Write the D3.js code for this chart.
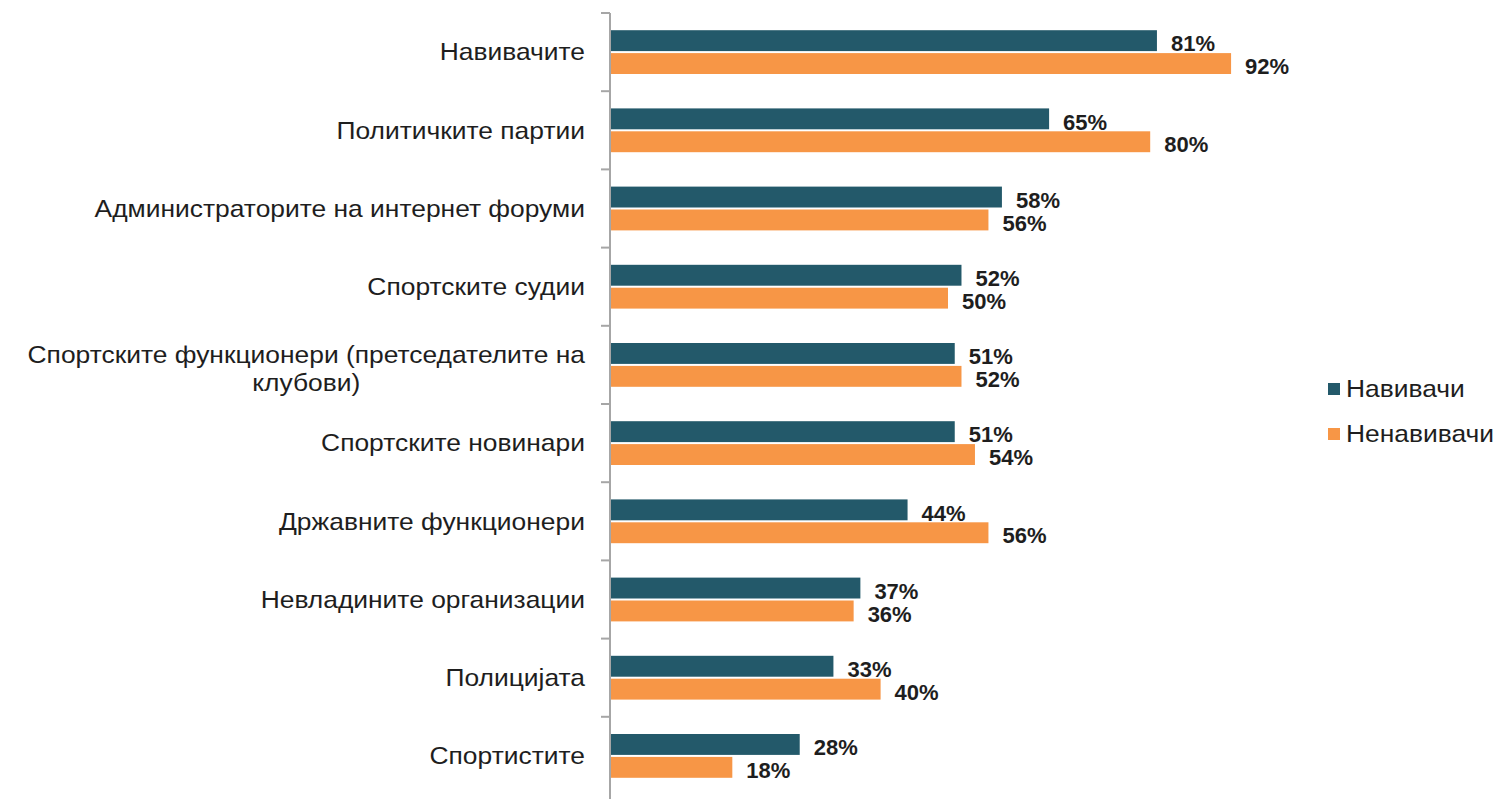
<!DOCTYPE html>
<html>
<head>
<meta charset="utf-8">
<script src="https://cdn.jsdelivr.net/npm/d3@7"></script>
<style>
    body { margin: 0; background: #fff; }
    text { font-family: "Liberation Sans", Arial, sans-serif; fill: #1e1e1e; }
</style>
</head>
<body>
<div id="chart"></div>
<script>
var categories = [
    'Навивачите',
    'Политичките партии',
    'Администраторите на интернет форуми',
    'Спортските судии',
    'Спортските функционери (претседателите на клубови)',
    'Спортските новинари',
    'Државните функционери',
    'Невладините организации',
    'Полицијата',
    'Спортистите'
];
var fans = [81, 65, 58, 52, 51, 51, 44, 37, 33, 28];
var nonFans = [92, 80, 56, 50, 52, 54, 56, 36, 40, 18];
var seriesNames = ['Навивачи', 'Ненавивачи'];
var colors = ['#23596a', '#f79646'];

var width = 1501, height = 799;
var margin = {top: 13, left: 610, bottom: 4};
var labelSize = '24px';
var stretch = 1.1; // the source text is a bit wide

var svg = d3.select('#chart').append('svg')
    .attr('width', width)
    .attr('height', height);

var y = d3.scaleBand()
    .domain(categories)
    .range([margin.top, height - margin.bottom])
    .paddingInner(0.44)
    .paddingOuter(0.22);

var x = d3.scaleLinear()
    .domain([0, 100])
    .range([margin.left + 1, margin.left + 675]);

var rows = categories.map(function (c, i) {
    return {cat: c, values: [fans[i], nonFans[i]]};
});

var barH = y.bandwidth() / 2 - 1;

// bars
var g = svg.selectAll('.row')
    .data(rows)
    .enter()
    .append('g')
    .attr('class', 'row');

g.selectAll('rect')
    .data(function (d) { return d.values.map(function (v, k) { return {cat: d.cat, v: v, k: k}; }); })
    .enter()
    .append('rect')
    .attr('x', x(0))
    .attr('y', function (d) { return y(d.cat) + d.k * (barH + 2); })
    .attr('width', function (d) { return x(d.v) - x(0); })
    .attr('height', barH)
    .style('fill', function (d) { return colors[d.k]; });

// value labels
g.selectAll('.val')
    .data(function (d) { return d.values.map(function (v, k) { return {cat: d.cat, v: v, k: k}; }); })
    .enter()
    .append('text')
    .attr('class', 'val')
    .attr('x', function (d) { return x(d.v) + 14; })
    .attr('y', function (d) { return y(d.cat) + d.k * (barH + 2) + barH / 2 + 3; })
    .attr('dy', '.35em')
    .style('font-size', '22px')
    .style('font-weight', 'bold')
    .text(function (d) { return d.v + '%'; });

// axis line
var bandStep = y.step();
var axis = d3.axisLeft(y).tickSize(0).tickFormat('');
svg.append('g')
    .attr('transform', 'translate(' + margin.left + ',0)')
    .call(axis)
    .select('.domain')
    .attr('d', 'M0,' + margin.top + 'V' + height)
    .style('stroke', '#a6a6a6')
    .style('stroke-width', 2);

// tick marks between categories
var tickYs = categories.map(function (c) { return y(c) - y.paddingInner() * bandStep / 2; });
svg.selectAll('.tk')
    .data(tickYs)
    .enter()
    .append('line')
    .attr('x1', margin.left - 9)
    .attr('x2', margin.left)
    .attr('y1', function (d) { return d; })
    .attr('y2', function (d) { return d; })
    .style('stroke', '#a6a6a6')
    .style('stroke-width', 2);

// category labels (wrapped, right aligned block, centered lines)
var labelRight = 585, maxW = 575 / stretch;
var labels = svg.append('g')
    .attr('transform', 'translate(' + labelRight + ',0) scale(' + stretch + ',1)');
rows.forEach(function (d) {
    var t = labels.append('text')
        .style('font-size', labelSize)
        .attr('text-anchor', 'middle');
    var words = d.cat.split(' '), lines = [], cur = '';
    var probe = svg.append('text').style('font-size', labelSize);
    words.forEach(function (w) {
        var test = cur ? cur + ' ' + w : w;
        probe.text(test);
        if (probe.node().getComputedTextLength() > maxW && cur) {
            lines.push(cur);
            cur = w;
        } else {
            cur = test;
        }
    });
    lines.push(cur);
    probe.text(lines[0]);
    var w0 = probe.node().getComputedTextLength();
    probe.remove();
    var cy = y(d.cat) + y.bandwidth() / 2 - (lines.length - 1) * 10;
    lines.forEach(function (l, i) {
        t.append('tspan')
            .attr('x', -w0 / 2)
            .attr('y', cy + i * 28)
            .attr('dy', '.35em')
            .text(l);
    });
});

// legend
var legend = svg.selectAll('.legend')
    .data(seriesNames)
    .enter()
    .append('g')
    .attr('class', 'legend')
    .attr('transform', function (d, i) { return 'translate(1328,' + (389 + i * 45) + ')'; });

legend.append('rect')
    .attr('x', 0)
    .attr('y', -6)
    .attr('width', 12)
    .attr('height', 12)
    .style('fill', function (d, i) { return colors[i]; });

legend.append('text')
    .attr('transform', 'translate(18,0) scale(' + stretch + ',1)')
    .attr('dy', '.35em')
    .style('font-size', labelSize)
    .text(function (d) { return d; });
</script>
</body>
</html>
